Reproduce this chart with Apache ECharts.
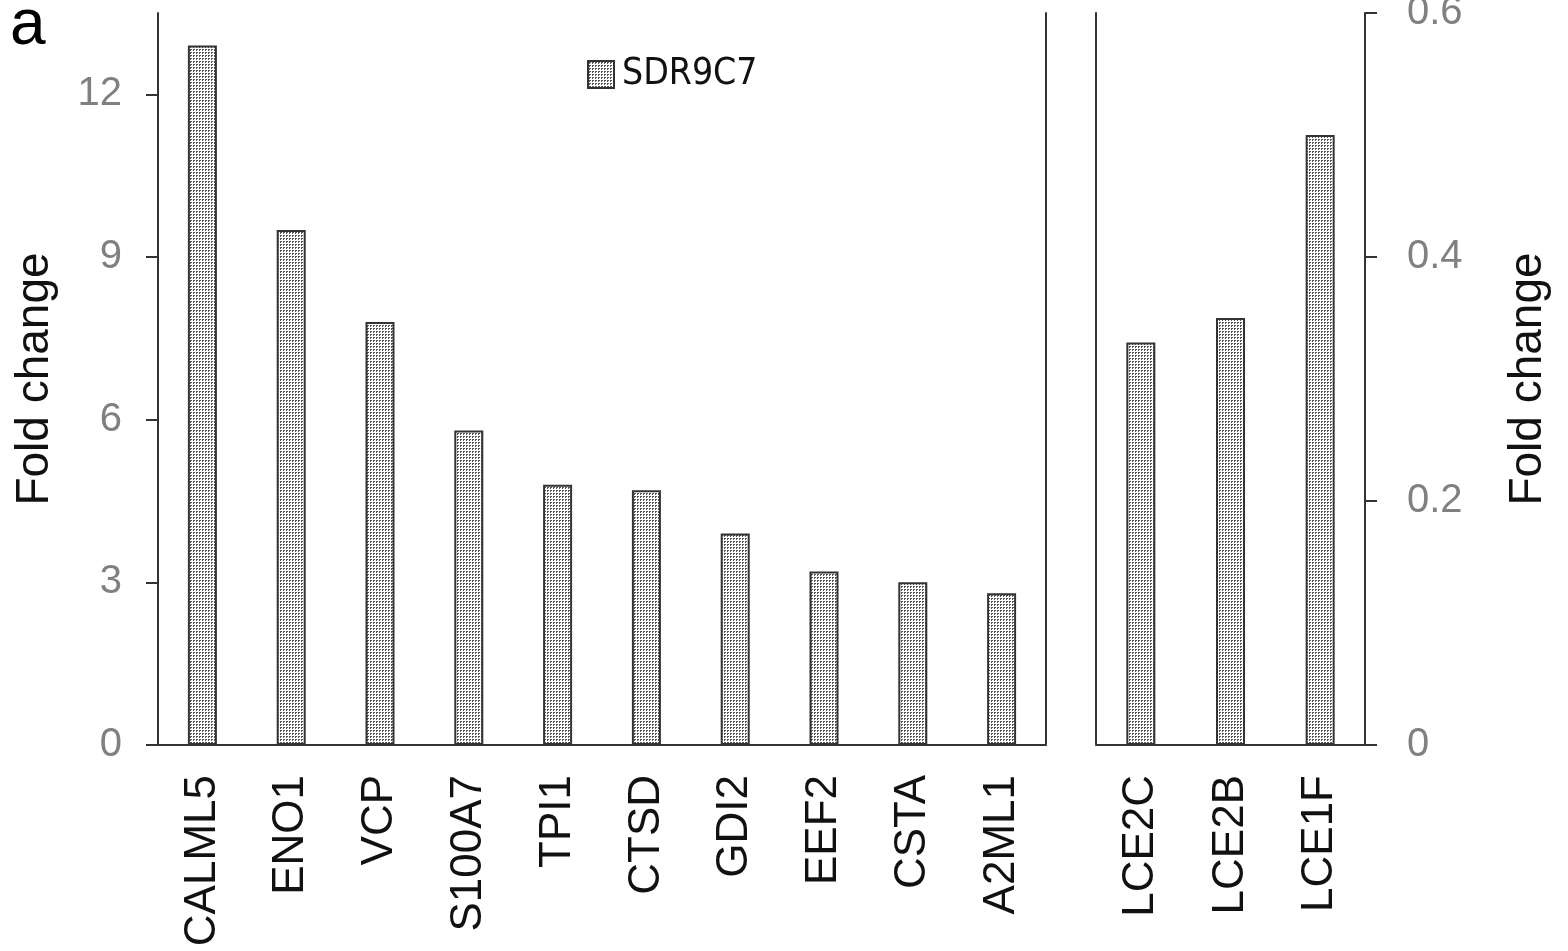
<!DOCTYPE html>
<html>
<head>
<meta charset="utf-8">
<script src="https://cdn.jsdelivr.net/npm/echarts@6/dist/echarts.min.js"></script>
<style>
html,body{margin:0;padding:0;background:#fff;}
#chart{width:1568px;height:951px;}
</style>
</head>
<body>
<div id="chart"></div>
<script>
const leftCategories = ['CALML5','ENO1','VCP','S100A7','TPI1','CTSD','GDI2','EEF2','CSTA','A2ML1'];
const leftValues = [12.9, 9.5, 7.8, 5.8, 4.8, 4.7, 3.9, 3.2, 3.0, 2.8];
const rightCategories = ['LCE2C','LCE2B','LCE1F'];
const rightValues = [0.33, 0.35, 0.50];
const leftTicks = [0, 3, 6, 9, 12];
const rightTicks = [0, 0.2, 0.4, 0.6];
const seriesName = 'SDR9C7';
const axisTitle = 'Fold change';
const panelLabel = 'a';

const FONT = '"Liberation Sans", Arial, Helvetica, sans-serif';
const NARROW = '"Liberation Sans Narrow", "DejaVu Sans Condensed", "Liberation Sans", sans-serif';
const DARK = '#333333';
const GREY = '#808080';

function makePattern() {
  const c = document.createElement('canvas');
  c.width = 3; c.height = 3;
  const ctx = c.getContext('2d');
  ctx.fillStyle = '#ffffff';
  ctx.fillRect(0, 0, 3, 3);
  ctx.fillStyle = '#555555';
  ctx.fillRect(1, 1, 2, 2);
  ctx.fillStyle = '#ffffff';
  ctx.fillRect(2, 2, 1, 1);
  return c;
}
const pattern = { image: makePattern(), repeat: 'repeat' };

const chart = echarts.init(document.getElementById('chart'), null, { renderer: 'canvas' });

const hiddenAxisCommon = {
  axisLabel: { show: false },
  axisTick: { show: false },
  splitLine: { show: false }
};

const option = {
  backgroundColor: '#ffffff',
  animation: false,
  textStyle: { fontFamily: FONT },
  grid: [
    { left: 158, top: 13, width: 888, height: 732, outerBoundsMode: 'none', containLabel: false },
    { left: 1096, top: 13, width: 269, height: 732, outerBoundsMode: 'none', containLabel: false }
  ],
  legend: {
    data: [seriesName],
    left: 587, top: 56, padding: 0,
    icon: 'rect',
    itemWidth: 26, itemHeight: 27,
    textStyle: { fontSize: 37, fontFamily: NARROW, color: '#111', padding: [0, 0, 0, 3] }
  },
  graphic: [
    { type: 'text', left: 10, top: -6, style: { text: panelLabel, font: '64px ' + FONT, fill: '#000' } }
  ],
  xAxis: [
    { type: 'category', gridIndex: 0, position: 'bottom', data: leftCategories,
      axisLine: { lineStyle: { color: '#d4d4d4', width: 2 } },
      axisTick: { show: false },
      axisLabel: { rotate: 90, interval: 0, margin: 30, fontSize: 44, color: '#111', fontFamily: FONT },
      splitLine: { show: false } },
    Object.assign({ type: 'category', gridIndex: 0, position: 'top', data: leftCategories,
      axisLine: { lineStyle: { color: DARK, width: 2 } } }, hiddenAxisCommon),
    { type: 'category', gridIndex: 1, position: 'bottom', data: rightCategories,
      axisLine: { lineStyle: { color: '#d4d4d4', width: 2 } },
      axisTick: { show: false },
      axisLabel: { rotate: 90, interval: 0, margin: 30, fontSize: 44, color: '#111', fontFamily: FONT },
      splitLine: { show: false } },
    Object.assign({ type: 'category', gridIndex: 1, position: 'top', data: rightCategories,
      axisLine: { lineStyle: { color: DARK, width: 2 } } }, hiddenAxisCommon)
  ],
  yAxis: [
    { type: 'value', gridIndex: 0, position: 'left', min: 0, max: 13.5, interval: 3,
      name: axisTitle, nameLocation: 'middle', nameGap: 100, nameRotate: 90,
      nameTextStyle: { fontSize: 46, color: '#111', fontFamily: FONT },
      axisLine: { show: true, lineStyle: { color: DARK, width: 2 } },
      axisTick: { show: true, length: 12, lineStyle: { color: DARK, width: 2 }, customValues: leftTicks },
      axisLabel: { fontSize: 40, color: GREY, margin: 36, customValues: leftTicks },
      splitLine: { show: false } },
    Object.assign({ type: 'value', gridIndex: 0, position: 'right', min: 0, max: 13.5,
      axisLine: { show: true, lineStyle: { color: DARK, width: 2 } } }, hiddenAxisCommon),
    Object.assign({ type: 'value', gridIndex: 1, position: 'left', min: 0, max: 0.6,
      axisLine: { show: true, lineStyle: { color: DARK, width: 2 } } }, hiddenAxisCommon),
    { type: 'value', gridIndex: 1, position: 'right', min: 0, max: 0.6, interval: 0.2,
      name: axisTitle, nameLocation: 'middle', nameGap: 140, nameRotate: 90,
      nameTextStyle: { fontSize: 46, color: '#111', fontFamily: FONT },
      axisLine: { show: true, lineStyle: { color: DARK, width: 2 } },
      axisTick: { show: true, length: 12, lineStyle: { color: DARK, width: 2 }, customValues: rightTicks },
      axisLabel: { fontSize: 40, color: GREY, margin: 42, customValues: rightTicks },
      splitLine: { show: false } }
  ],
  series: [
    { name: seriesName, type: 'bar', xAxisIndex: 0, yAxisIndex: 0, data: leftValues,
      barWidth: 29,
      itemStyle: { color: pattern, borderColor: DARK, borderWidth: 2 } },
    { name: seriesName, type: 'bar', xAxisIndex: 2, yAxisIndex: 3, data: rightValues,
      barWidth: 29,
      itemStyle: { color: pattern, borderColor: DARK, borderWidth: 2 } }
  ]
};
chart.setOption(option);
</script>
</body>
</html>
